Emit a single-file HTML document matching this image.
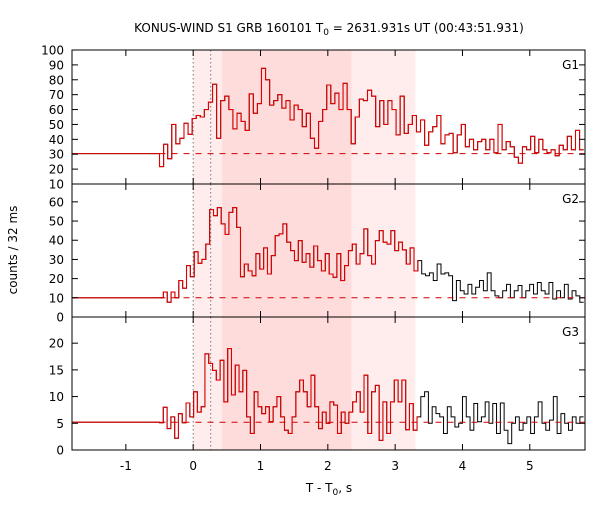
<!DOCTYPE html>
<html><head><meta charset="utf-8"><style>
body{margin:0;background:#fff}
svg text{font-family:"DejaVu Sans","Liberation Sans",sans-serif;font-size:12px;fill:#000}
</style></head><body>
<svg id="c" width="600" height="500" viewBox="0 0 600 500">
<text x="329" y="32" text-anchor="middle">KONUS-WIND S1 GRB 160101 T<tspan font-size="9" dy="3">0</tspan><tspan dy="-3"> = 2631.931s UT (00:43:51.931)</tspan></text>
<text transform="translate(17,250) rotate(-90)" text-anchor="middle">counts / 32 ms</text>
<text x="329" y="492" text-anchor="middle">T - T<tspan font-size="9" dy="3">0</tspan><tspan dy="-3">, s</tspan></text>
</svg>
<script>
const xTicks=[-1,0,1,2,3,4,5];
const g1=[21.7,36.7,27,50,37,40.7,50.8,43.4,54,56,55,60,65,77,40.7,66,69,60,47,57.5,52,46,70.5,57.5,64,87.7,80,63,66,70,61,66,53,63,60,48.5,57.5,40.7,34,52,60,76.5,64,71,60,77.6,60,37,55,67,
66,73,69,48.5,66,50,66,60,43,69,44,50,56,45,53,36,45,48.5,56,37,43,44,31,43,50,35,40,33,38.5,40,33,40,31,50,33,38.5,35,28,24,35,33,42,31,40,33,31,33,29,36,33,42,33,46,33];
const g2=[10,13,7.7,13,10,19,15,26.8,21,34,28,30,38,56,52.8,57,48.5,43,54.5,57,46.7,21,27.6,24,21.5,33,25,36,22.4,32,42.4,43.3,48.5,39,34.6,29.4,39.8,28.5,33,26,37,29.4,24,33,22.4,20.7,33,19,26.8,34.6,38,27.6,33,45.9,32,27.6,39.8,45,39,
38,45,34.6,39,35,27.6,36,24,29.4,22.5,21.5,23,19,27.6,22.4,23,21.5,8.5,19,13.7,12,17,12,15.5,19,13.7,23,13.7,11,10,13.7,17,10,13.7,16.4,10,13.7,17,12,18,13.7,12,18,9.4,13.7,10,17,9.4,13.7,11,7.7];
const g3=[5.1,8,4,6.2,2.2,6.8,5.1,8.8,6.2,10.9,7.1,8.1,18,16.2,14.9,13.1,16.8,9,19,10.3,15.9,10.9,14.9,6.2,3.1,10.9,8.1,6.8,8.1,5.3,8.1,10,6.2,3.7,3.1,6.2,10.9,13.1,10.9,8.1,14,8.1,4,7.1,5,9,8.4,3.1,7.1,5,7.1,9,10.9,7.1,14,3.1,10.9,12.1,1.8,9,3.1,9,13.1,
9,13.1,3.8,8.7,3.7,6.2,10,10.9,5,8.1,6.8,6.2,3.1,8.1,6.2,4.3,5,10,6.2,3.7,8.7,5.3,6.2,9,5,8.7,3.1,8.8,3.7,1.2,5,6.2,3.7,5,6.2,3.1,6.2,9,5,3.7,5.6,10,3.1,6.8,5,3.7,6.2,5,6.2];
const panels=[
 {name:'g1',data:g1,bkg:30.4,ymin:10,ymax:100,top:50,bot:184,ticks:[10,20,30,40,50,60,70,80,90,100],labels:['10','20','30','40','50','60','70','80','90','100'],redEnd:5.8},
 {name:'g2',data:g2,bkg:10,ymin:0,ymax:69.3,top:184,bot:317,ticks:[0,10,20,30,40,50,60],labels:['0','10','20','30','40','50','60'],redEnd:3.35},
 {name:'g3',data:g3,bkg:5.2,ymin:0,ymax:24.9,top:317,bot:450,ticks:[0,5,10,15,20],labels:['0','5','10','15','20'],redEnd:3.35}];
const tStart=-0.5,tEnd=5.8,xMin=-1.8,xMax=5.82,L=72,R=585;
const X=t=>L+(t-xMin)/(xMax-xMin)*(R-L);
const svg=document.getElementById('c'),NS='http://www.w3.org/2000/svg';
function mk(tag,at,parent){const e=document.createElementNS(NS,tag);for(const k in at)e.setAttribute(k,at[k]);(parent||svg).appendChild(e);return e;}
const defs=mk('defs',{});
panels.forEach((p,pi)=>{
 const Y=v=>p.bot-(v-p.ymin)/(p.ymax-p.ymin)*(p.bot-p.top);
 const g=mk('g',{});
 
 
 let r=mk('rect',{x:X(0),y:p.top,width:X(3.3)-X(0),height:p.bot-p.top,fill:'#ffecec'},g);
 
 
 r=mk('rect',{x:X(0.43),y:p.top,width:X(2.35)-X(0.43),height:p.bot-p.top,fill:'#ffdcdc'},g);
 
 
 [0,0.26].forEach(t=>{const l=mk('line',{x1:X(t),x2:X(t),y1:p.top,y2:p.bot,stroke:'#777','stroke-dasharray':'1.5,2.5'},g);
  
  });
 const n=p.data.length,w=(tEnd-tStart)/n;
 let d='M'+X(xMin)+','+Y(p.bkg)+'H'+X(tStart);
 p.data.forEach((v,i)=>{d+='V'+Y(v)+'H'+X(tStart+(i+1)*w);});
 const bl=mk('path',{d:d,fill:'none',stroke:'#000','stroke-width':1},g);
 
 
 const cp=mk('clipPath',{id:'cp'+pi},defs);
 mk('rect',{x:0,y:0,width:X(p.redEnd),height:500},cp);
 const rd=mk('path',{d:d,fill:'none',stroke:'#e00000','stroke-width':1.1,'clip-path':'url(#cp'+pi+')'},g);
 
 
 const bk=mk('line',{x1:X(tStart),x2:R,y1:Y(p.bkg),y2:Y(p.bkg),stroke:'#d00000','stroke-dasharray':'6,6','stroke-width':1},g);
 
 
 p.ticks.forEach((v,i)=>{
  const y=Y(v);
  mk('line',{x1:L,x2:L+6,y1:y,y2:y,stroke:'#000'},g);
  mk('line',{x1:R-6,x2:R,y1:y,y2:y,stroke:'#000'},g);
  const t=mk('text',{x:L-8,y:y+4.5,'text-anchor':'end'},g);t.textContent=p.labels[i];
  
  
 });
 xTicks.forEach(t=>{mk('line',{x1:X(t),x2:X(t),y1:p.bot,y2:p.bot-6,stroke:'#000'},g);mk('line',{x1:X(t),x2:X(t),y1:p.top,y2:p.top+6,stroke:'#000'},g);});
 const fr=mk('rect',{x:L,y:p.top,width:R-L,height:p.bot-p.top,fill:'none',stroke:'#000'},g);
 
 
 const lb=mk('text',{x:R-6,y:p.top+19,'text-anchor':'end'},g);lb.textContent='G'+(pi+1);
 
 
});
xTicks.forEach(t=>{const e=mk('text',{x:X(t),y:470,'text-anchor':'middle'});e.textContent=t;
 
 });
</script>
</body></html>
